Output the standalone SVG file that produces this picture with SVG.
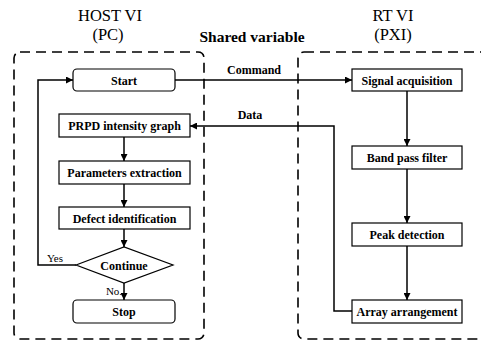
<svg xmlns="http://www.w3.org/2000/svg" width="481" height="341" viewBox="0 0 481 341">
<style>
.bg{fill:#fff}
.dash{fill:none;stroke:#000;stroke-width:1.6;stroke-dasharray:10,6}
.box{fill:#fff;stroke:#000;stroke-width:1.2}
.lbl{font-family:"Liberation Serif","Times New Roman","DejaVu Serif",serif;font-weight:bold;font-size:12px;text-anchor:middle;fill:#000}
.ttl{font-family:"Liberation Serif","Times New Roman","DejaVu Serif",serif;font-size:16.5px;text-anchor:middle;fill:#000}
.sv{font-family:"Liberation Serif","Times New Roman","DejaVu Serif",serif;font-weight:bold;font-size:15.5px;text-anchor:middle;fill:#000}
.con{fill:none;stroke:#000;stroke-width:1.5}
</style>
<defs>
<marker id="ah" viewBox="0 0 10 10" refX="10" refY="5" markerWidth="7" markerHeight="7" markerUnits="userSpaceOnUse" orient="auto">
<path d="M0,0L10,5L0,10z" fill="#000"/>
</marker>
</defs>
<rect class="bg" width="481" height="341"/>
<text class="ttl" x="110" y="21">HOST VI</text>
<text class="ttl" x="108" y="40">(PC)</text>
<text class="ttl" x="393" y="21">RT VI</text>
<text class="ttl" x="393" y="40">(PXI)</text>
<text class="sv" x="252" y="42">Shared variable</text>
<rect class="dash" x="14" y="52" width="190" height="287" rx="6"/>
<rect class="dash" x="298" y="52" width="200" height="287" rx="6"/>
<g id="connectors">
<path class="con" d="M175,80H352" marker-end="url(#ah)"/>
<path class="con" d="M407,91V146" marker-end="url(#ah)"/>
<path class="con" d="M407,169V223" marker-end="url(#ah)"/>
<path class="con" d="M407,246V300" marker-end="url(#ah)"/>
<path class="con" d="M352,311H334V126H190" marker-end="url(#ah)"/>
<path class="con" d="M124,137V161" marker-end="url(#ah)"/>
<path class="con" d="M124,184V207" marker-end="url(#ah)"/>
<path class="con" d="M124,229V247" marker-end="url(#ah)"/>
<path class="con" d="M124,283V300" marker-end="url(#ah)"/>
<path class="con" d="M76,265H38V80H73" marker-end="url(#ah)"/>
<text class="lbl" x="254" y="74">Command</text>
<text class="lbl" x="250" y="119">Data</text>
<text class="lbl" x="55" y="262" style="font-weight:normal;font-size:11px">Yes</text>
<text class="lbl" x="114" y="295" style="font-weight:normal;font-size:11px">No.</text>
</g>
<g id="start"><rect class="box" x="73" y="69" width="102" height="22" rx="4"/><text class="lbl" x="124" y="84.5">Start</text></g>
<g id="prpd"><rect class="box" x="59" y="114" width="131" height="23"/><text class="lbl" x="124.5" y="130">PRPD intensity graph</text></g>
<g id="params"><rect class="box" x="59" y="161" width="131" height="23"/><text class="lbl" x="124.5" y="177">Parameters extraction</text></g>
<g id="defect"><rect class="box" x="59" y="207" width="131" height="22"/><text class="lbl" x="124.5" y="222.5">Defect identification</text></g>
<g id="continue"><path class="box" d="M76,265L124,247L173,265L124,283z"/><text class="lbl" x="124" y="269.5">Continue</text></g>
<g id="stop"><rect class="box" x="73" y="300" width="102" height="23" rx="4"/><text class="lbl" x="124" y="316">Stop</text></g>
<g id="signal"><rect class="box" x="352" y="69" width="110" height="22"/><text class="lbl" x="407" y="84.5">Signal acquisition</text></g>
<g id="band"><rect class="box" x="352" y="146" width="110" height="23"/><text class="lbl" x="407" y="162">Band pass filter</text></g>
<g id="peak"><rect class="box" x="352" y="223" width="110" height="23"/><text class="lbl" x="407" y="239">Peak detection</text></g>
<g id="array"><rect class="box" x="352" y="300" width="110" height="23"/><text class="lbl" x="407" y="316">Array arrangement</text></g>
</svg>
